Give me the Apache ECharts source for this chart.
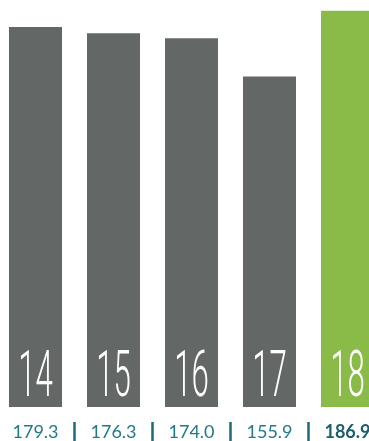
<!DOCTYPE html>
<html><head><meta charset="utf-8">
<script src="https://cdn.jsdelivr.net/npm/echarts@6/dist/echarts.min.js"></script>
<style>html,body{margin:0;padding:0;background:#fff}#c{width:369px;height:441px}</style>
</head><body><div id="c"></div>
<script>
var categories = ['14', '15', '16', '17', '18'];
var values = [179.3, 176.3, 174.0, 155.9, 186.9];
var valueLabels = ['179.3', '176.3', '174.0', '155.9', '186.9'];
var highlightIndex = 4;

var chart = echarts.init(document.getElementById('c'), null, {renderer: 'canvas'});
var data = values.map(function (v, i) {
  return {
    value: v,
    itemStyle: {color: i === highlightIndex ? '#8aba48' : '#636867'}
  };
});
chart.setOption({
  animation: false,
  grid: {left: -3.5, width: 390, top: 0, bottom: 34, containLabel: false, outerBoundsMode: 'none'},
  xAxis: {
    type: 'category', data: categories,
    axisLine: {show: false}, axisTick: {show: false}, axisLabel: {show: false}
  },
  yAxis: {type: 'value', min: 0, max: 192, show: false, splitLine: {show: false}},
  series: [{
    type: 'bar', data: data, barWidth: 53, z: 1
  }, {
    type: 'custom', z: 5, clip: false,
    data: values.map(function (v, i) { return [i, 0]; }),
    renderItem: function (params, api) {
      var i = params.dataIndex;
      var p = api.coord([api.value(0), 0]);
      var children = [{
        type: 'text',
        x: p[0], y: p[1] + 5,
        scaleX: 0.48, scaleY: 1,
        style: {
          text: categories[i],
          fill: '#ffffff',
          font: '300 65px Roboto',
          align: 'center', verticalAlign: 'bottom'
        }
      }, {
        type: 'text',
        x: p[0], y: p[1] + 25,
        style: {
          text: valueLabels[i],
          fill: i === highlightIndex ? '#1b5e6c' : '#23798a',
          font: (i === highlightIndex ? 'bold ' : 'normal ') + '18px Lato',
          align: 'center', verticalAlign: 'middle'
        }
      }];
      if (i < categories.length - 1) {
        var q = api.coord([i + 1, 0]);
        var mid = (p[0] + q[0]) / 2;
        children.push({
          type: 'rect',
          shape: {x: mid - 1.25, y: p[1] + 15, width: 2.5, height: 19},
          style: {fill: '#1d6a78'}
        });
      }
      return {type: 'group', children: children};
    }
  }]
});
</script></body></html>
